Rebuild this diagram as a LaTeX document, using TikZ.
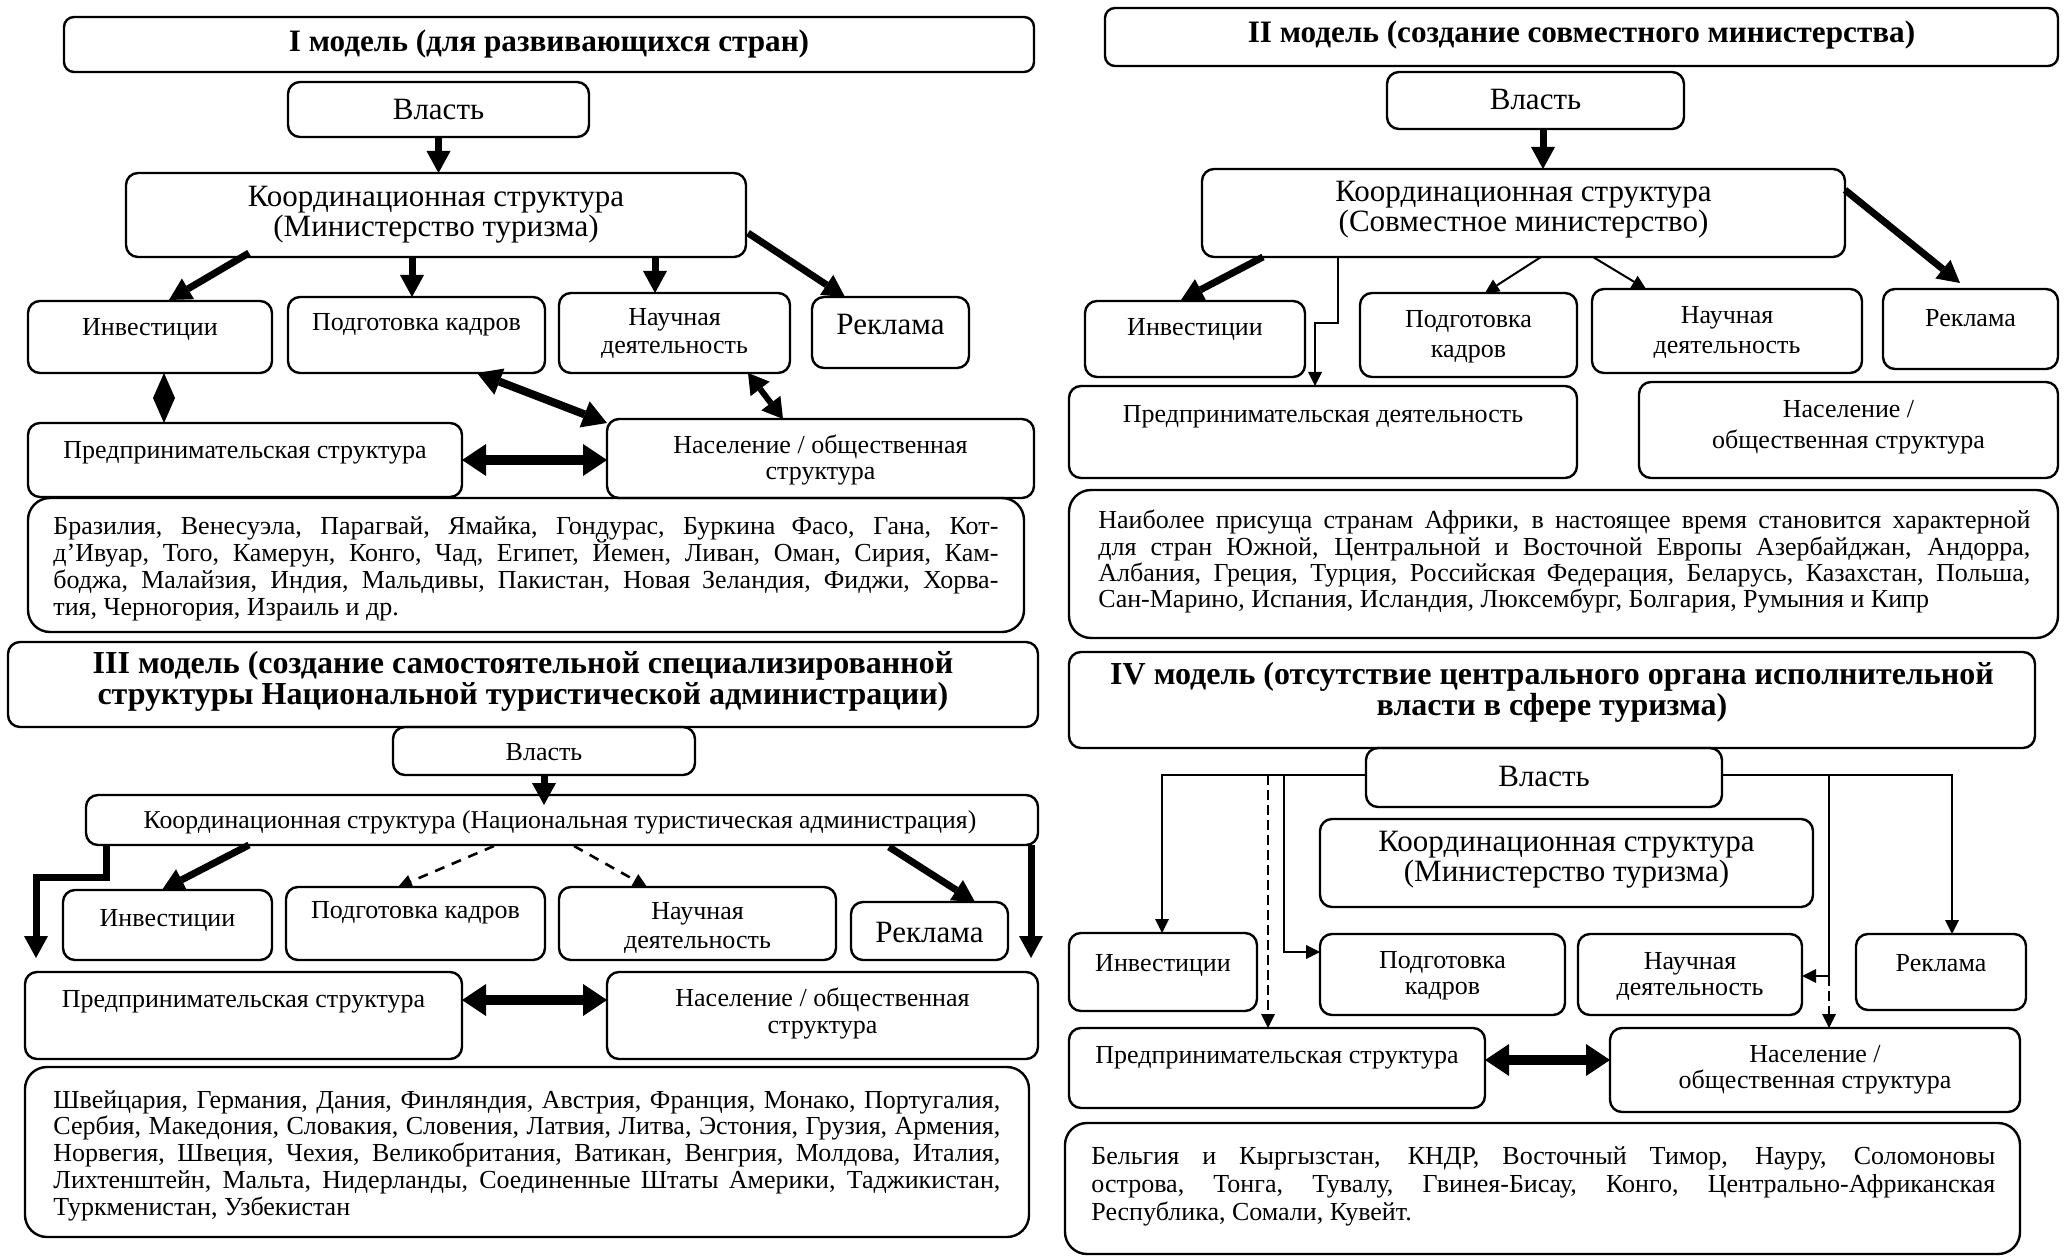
\documentclass[tikz,border=0pt]{standalone}
\usepackage{fontspec}
\setmainfont{Liberation Serif}
\usetikzlibrary{arrows.meta}

\newcommand\fsb[1][14]{\fontsize{13}{#1}\selectfont}
\newcommand\fsl[1][15]{\fontsize{15.5}{#1}\selectfont}
\newcommand\fst[1][14]{\fontsize{15.6}{#1}\selectfont\bfseries}
\newcommand\fstb[1][14]{\fontsize{16}{#1}\selectfont\bfseries}
\newcommand\bx[6][]{\node[bx,#1,minimum width={(#4-#2)*0.5pt},minimum height={(#5-#3)*0.5pt}] (#6) at ({(#2+#4)/2},{(#3+#5)/2}) {};}
\newcommand\lline[1]{\makebox[\hsize][s]{#1}\par}
\newcommand\lst[3]{\vtop{\hsize=#1pt\baselineskip=#2pt\parindent=0pt\parskip=0pt\lineskiplimit=-20pt\lineskip=0pt #3}}

\begin{document}
\begin{tikzpicture}[x=0.5pt,y=-0.5pt,
  bx/.style={draw, rounded corners=6pt, line width=1.2pt, inner sep=0pt, outer sep=0pt},
  ttl/.style={rounded corners=5pt},
  cbx/.style={rounded corners=11pt},
  lbl/.style={inner sep=0pt, align=center, font=\fsb},
  lst/.style={inner sep=0pt, anchor=base west, font=\fsb},
  tk/.style={line width=3.5pt, -{Triangle[length=11pt,width=12pt,line width=0pt]}},
  tkd/.style={line width=5pt, {Triangle[length=12pt,width=16pt,line width=0pt]}-{Triangle[length=12pt,width=16pt,line width=0pt]}},
  tkdb/.style={line width=4pt, {Triangle[length=12pt,width=14pt,line width=0pt]}-{Triangle[length=12pt,width=14pt,line width=0pt]}},
  tkdc/.style={line width=3pt, {Triangle[length=10pt,width=12pt,line width=0pt]}-{Triangle[length=10pt,width=12pt,line width=0pt]}},
  dia/.style={line width=1pt, {Triangle[length=12.5pt,width=11pt,line width=0pt]}-{Triangle[length=12.5pt,width=11pt,line width=0pt]}},
  tn/.style={line width=1pt, -{Triangle[length=7pt,width=7pt,line width=0pt]}},
  dsha/.style={line width=1.3pt, dash pattern=on 5pt off 4pt, -{Triangle[length=7pt,width=7pt,line width=0pt]}},
  dshb/.style={line width=1pt, dash pattern=on 5pt off 2.5pt, -{Triangle[length=7pt,width=7pt,line width=0pt]}}
]
\fill[white] (0,0) rectangle (2067,1256);
\useasboundingbox (0,0) rectangle (2067,1256);

% ================= Model I =================
\bx[ttl]{64}{17}{1034}{72}{t1}
\node[lbl,font=\fst] (t1l) at (549,44) {I модель (для развивающихся стран)};
\bx{288}{82}{589}{137}{v1}
\node[lbl,font=\fsl] (v1l) at (438.5,110) {Власть};
\bx{126}{173}{746}{257}{k1}
\node[lbl,font={\fsl[13]}] (k1l) at (436,215) {Координационная структура\\(Министерство туризма)};
\bx{28}{301}{272}{373}{i1}
\node[lbl] (i1l) at (150,330) {Инвестиции};
\bx{288}{297}{545}{373}{p1}
\node[lbl] (p1l) at (416.5,325) {Подготовка кадров};
\bx{559}{293}{790}{373}{n1}
\node[lbl,font={\fsb[14]}] (n1l) at (674.5,334) {Научная\\деятельность};
\bx{812}{297}{969}{368}{r1}
\node[lbl,font=\fsl] (r1l) at (890.5,325) {Реклама};
\bx{28}{423}{462}{497}{e1}
\node[lbl] (e1l) at (245,453) {Предпринимательская структура};
\bx{607}{419}{1034}{498}{s1}
\node[lbl,font={\fsb[13]}] (s1l) at (820.5,460) {Население / общественная\\структура};
\bx[cbx]{28}{498}{1024}{632}{c1}
\node[lst] (c1l) at (53,535) {\lst{472.5}{13.5}{%
\lline{Бразилия, Венесуэла, Парагвай, Ямайка, Гондурас, Буркина Фасо, Гана, Кот-}
\lline{д'Ивуар, Того, Камерун, Конго, Чад, Египет, Йемен, Ливан, Оман, Сирия, Кам-}
\lline{боджа, Малайзия, Индия, Мальдивы, Пакистан, Новая Зеландия, Фиджи, Хорва-}
тия, Черногория, Израиль и др.\par}};

\draw[tk] (v1.south) -- (v1.south |- k1.north);
\draw[tk] ([shift={(123,80)}]k1.north west) -- ([shift={(141,-1)}]i1.north west);
\draw[tk] ([shift={(286,84)}]k1.north west) -- ([shift={(124,0)}]p1.north west);
\draw[tk] ([shift={(529,84)}]k1.north west) -- ([shift={(96,0)}]n1.north west);
\draw[tk] ([shift={(622,60)}]k1.north west) -- ([shift={(33,0)}]r1.north west);
\draw[dia] ([shift={(136,72)}]i1.north west) -- ([shift={(136,0)}]e1.north west);
\draw[tkdb] ([shift={(189,76)}]p1.north west) -- ([shift={(0,4)}]s1.north west);
\draw[tkdc] ([shift={(189,80)}]n1.north west) -- ([shift={(176,0)}]s1.north west);
\draw[tkd] ([shift={(434,37)}]e1.north west) -- ([shift={(0,41)}]s1.north west);

% ================= Model II =================
\bx[ttl]{1105}{8}{2058}{66}{t2}
\node[lbl,font=\fst] (t2l) at (1581.5,35) {II модель (создание совместного министерства)};
\bx{1387}{72}{1684}{129}{v2}
\node[lbl,font=\fsl] (v2l) at (1535.5,100) {Власть};
\bx{1202}{169}{1845}{257}{k2}
\node[lbl,font={\fsl[12.5]}] (k2l) at (1523.5,209.5) {Координационная структура\\(Совместное министерство)};
\bx{1085}{301}{1305}{377}{i2}
\node[lbl] (i2l) at (1195,330) {Инвестиции};
\bx{1360}{293}{1577}{377}{p2}
\node[lbl,font={\fsb[15]}] (p2l) at (1468.5,337) {Подготовка\\кадров};
\bx{1592}{289}{1862}{373}{n2}
\node[lbl,font={\fsb[15]}] (n2l) at (1727,333) {Научная\\деятельность};
\bx{1883}{289}{2058}{369}{r2}
\node[lbl] (r2l) at (1970.5,318) {Реклама};
\bx{1069}{386}{1577}{478}{e2}
\node[lbl] (e2l) at (1323,417) {Предпринимательская деятельность};
\bx{1639}{382}{2058}{478}{s2}
\node[lbl,font={\fsb[15.5]}] (s2l) at (1848.5,427.5) {Население /\\общественная структура};
\bx[cbx]{1069}{490}{2058}{638}{c2}
\node[lst] (c2l) at (1098,529) {\lst{466}{13.1}{%
\lline{Наиболее присуща странам Африки, в настоящее время становится характерной}
\lline{для стран Южной, Центральной и Восточной Европы Азербайджан, Андорра,}
\lline{Албания, Греция, Турция, Российская Федерация, Беларусь, Казахстан, Польша,}
Сан-Марино, Испания, Исландия, Люксембург, Болгария, Румыния и Кипр\par}};

\draw[tk] ([shift={(156,57)}]v2.north west) -- ([shift={(341,0)}]k2.north west);
\draw[tk] ([shift={(61,88)}]k2.north west) -- ([shift={(96,-1)}]i2.north west);
\draw[tn] ([shift={(136,88)}]k2.north west) -- ++(0,66) -| ([shift={(246,0)}]e2.north west);
\draw[tn] ([shift={(339,88)}]k2.north west) -- ([shift={(125,0)}]p2.north west);
\draw[tn] ([shift={(391,88)}]k2.north west) -- ([shift={(54,0)}]n2.north west);
\draw[tk] ([shift={(643,21)}]k2.north west) -- ([shift={(77,-6)}]r2.north west);

% ================= Model III =================
\bx{8}{642}{1038}{727}{t3}
\node[lbl,font=\fstb] (t3l) at (523,681) {III модель (создание самостоятельной специализированной\\структуры Национальной туристической администрации)};
\bx{393}{727}{695}{775}{v3}
\node[lbl] (v3l) at (544,752) {Власть};
\bx{86}{795}{1038}{845}{k3}
\node[lbl,font=\fontsize{12.85}{14}\selectfont] (k3l) at (560,822) {Координационная структура (Национальная туристическая администрация)};
\bx{63}{890}{272}{960}{i3}
\node[lbl] (i3l) at (167.5,920) {Инвестиции};
\bx{286}{887}{545}{960}{p3}
\node[lbl] (p3l) at (415.5,913) {Подготовка кадров};
\bx{559}{887}{836}{960}{n3}
\node[lbl,font={\fsb[14.5]}] (n3l) at (697.5,927.5) {Научная\\деятельность};
\bx{851}{902}{1008}{960}{r3}
\node[lbl,font=\fsl] (r3l) at (929.5,932) {Реклама};
\bx{25}{972}{462}{1059}{e3}
\node[lbl] (e3l) at (243.5,1002) {Предпринимательская структура};
\bx{607}{972}{1038}{1059}{s3}
\node[lbl,font={\fsb[13.5]}] (s3l) at (822.5,1013.5) {Население / общественная\\структура};
\bx[cbx]{25}{1067}{1029}{1237}{c3}
\node[lst] (c3l) at (53,1108) {\lst{473.5}{13.4}{%
\lline{Швейцария, Германия, Дания, Финляндия, Австрия, Франция, Монако, Португалия,}
\lline{Сербия, Македония, Словакия, Словения, Латвия, Литва, Эстония, Грузия, Армения,}
\lline{Норвегия, Швеция, Чехия, Великобритания, Ватикан, Венгрия, Молдова, Италия,}
\lline{Лихтенштейн, Мальта, Нидерланды, Соединенные Штаты Америки, Таджикистан,}
Туркменистан, Узбекистан\par}};

\draw[tk] (v3.south) -- ([shift={(458,10)}]k3.north west);
\draw[tk] ([shift={(20,50)}]k3.north west) -- ++(0,32) -| ([shift={(11,-14)}]e3.north west);
\draw[tk] ([shift={(945,50)}]k3.north west) -- ([shift={(424,-14)}]s3.north west);
\draw[tk] ([shift={(163,50)}]k3.north west) -- ([shift={(99,0)}]i3.north west);
\draw[dsha] ([shift={(408,51)}]k3.north west) -- ([shift={(112,0)}]p3.north west);
\draw[dsha] ([shift={(488,51)}]k3.north west) -- ([shift={(88,0)}]n3.north west);
\draw[tk] ([shift={(803,52)}]k3.north west) -- ([shift={(124,0)}]r3.north west);
\draw[tkd] ([shift={(437,28)}]e3.north west) -- ([shift={(0,28)}]s3.north west);

% ================= Model IV =================
\bx{1069}{652}{2035}{748}{t4}
\node[lbl,font={\fstb[12.5]}] (t4l) at (1552,692.5) {IV модель (отсутствие центрального органа исполнительной\\власти в сфере туризма)};
\bx{1366}{748}{1722}{807}{v4}
\node[lbl,font=\fsl] (v4l) at (1544,777) {Власть};
\bx{1320}{819}{1813}{907}{k4}
\node[lbl,font={\fsl[13]}] (k4l) at (1566.5,860) {Координационная структура\\(Министерство туризма)};
\bx{1069}{933}{1257}{1011}{i4}
\node[lbl] (i4l) at (1163,965) {Инвестиции};
\bx{1320}{934}{1565}{1015}{p4}
\node[lbl,font={\fsb[13]}] (p4l) at (1442.5,976) {Подготовка\\кадров};
\bx{1578}{934}{1802}{1015}{n4}
\node[lbl,font={\fsb[13]}] (n4l) at (1690,976) {Научная\\деятельность};
\bx{1856}{934}{2026}{1010}{r4}
\node[lbl] (r4l) at (1941,963) {Реклама};
\bx{1069}{1028}{1485}{1108}{e4}
\node[lbl] (e4l) at (1277,1058) {Предпринимательская структура};
\bx{1610}{1028}{2020}{1112}{s4}
\node[lbl,font={\fsb[13]}] (s4l) at (1815,1070) {Население /\\общественная структура};
\bx[cbx]{1065}{1123}{2020}{1254}{c4}
\node[lst] (c4l) at (1091,1164) {\lst{452}{14}{%
\lline{Бельгия и Кыргызстан, КНДР, Восточный Тимор, Науру, Соломоновы}
\lline{острова, Тонга, Тувалу, Гвинея-Бисау, Конго, Центрально-Африканская}
Республика, Сомали, Кувейт.\par}};

\coordinate (j1) at (1268,775);
\coordinate (j2) at (1284,775);
\coordinate (j3) at (1829,775);
\coordinate (j4) at (1829,976);
\draw[tn] ([shift={(0,27)}]v4.north west) -| ([shift={(93,0)}]i4.north west);
\draw[dshb] (j1) -- ([shift={(199,0)}]e4.north west);
\draw[tn] (j2) |- ([shift={(0,18)}]p4.north west);
\draw[tn] ([shift={(356,27)}]v4.north west) -| ([shift={(96,0)}]r4.north west);
\draw[tn] (j3) |- ([shift={(224,42)}]n4.north west);
\draw[dshb] (j4) -- ([shift={(219,0)}]s4.north west);
\draw[tkd] ([shift={(416,32)}]e4.north west) -- ([shift={(0,32)}]s4.north west);
\end{tikzpicture}
\end{document}
